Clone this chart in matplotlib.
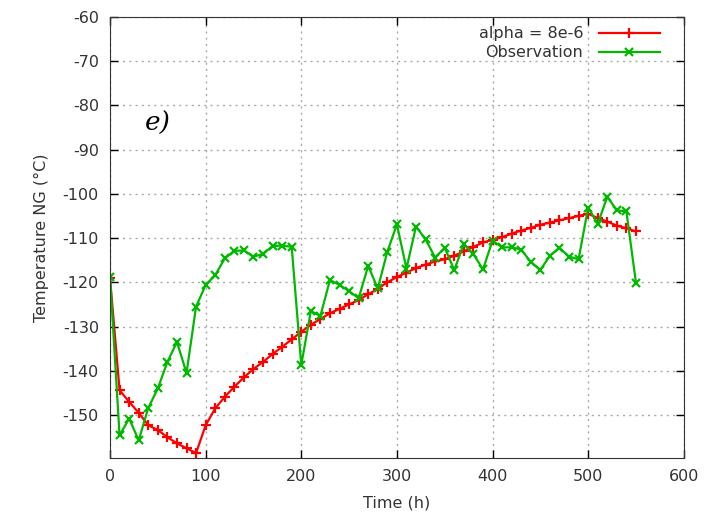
import numpy as np
import matplotlib
matplotlib.use('Agg')
import matplotlib.pyplot as plt

# datos
tiempo = np.arange(0, 560, 10)
modelo = [-119.0, -144.4, -147.0, -149.5, -152.3, -153.4, -155.0, -156.4, -157.5, -158.6,
          -152.3, -148.5, -145.9, -143.6, -141.5, -139.6, -138.0, -136.2, -134.6, -132.9,
          -131.2, -129.6, -128.3, -127.0, -126.0, -125.0, -124.0, -122.7, -121.5, -120.0,
          -118.8, -117.8, -116.8, -116.0, -115.3, -114.8, -114.0, -113.0, -112.0, -111.0,
          -110.4, -109.8, -109.0, -108.3, -107.7, -107.0, -106.5, -106.0, -105.5, -105.0,
          -104.5, -105.5, -106.3, -107.2, -107.8, -108.5]
observacion = [-118.7, -154.6, -150.8, -155.7, -148.4, -144.0, -138.0, -133.5, -140.5, -125.5,
               -120.6, -118.4, -114.6, -112.9, -112.8, -114.2, -113.6, -111.8, -111.7, -112.0,
               -138.7, -126.5, -127.6, -119.5, -120.6, -122.0, -123.6, -116.3, -121.4, -113.1,
               -106.9, -116.9, -107.4, -110.3, -114.4, -112.2, -117.2, -111.4, -113.6, -117.1,
               -110.6, -112.1, -112.1, -112.6, -115.4, -117.2, -114.0, -112.2, -114.2, -114.8,
               -103.1, -106.8, -100.7, -103.7, -104.0, -120.1]
etiquetas = ['alpha = 8e-6', 'Observation']
xticks = np.arange(0, 601, 100)
yticks = np.arange(-150, -59, 10)

if __name__ == '__main__':
    plt.rcParams['font.family'] = 'DejaVu Sans'
    plt.rcParams['axes.unicode_minus'] = False
    fig = plt.figure(figsize=(7.19, 5.24), dpi=100)
    ax = fig.add_axes([0.153, 0.126, 0.798, 0.842])
    ax.plot(tiempo, modelo, color='#ff0000', lw=1.6, marker='+', ms=7, mew=1.6,
            label=etiquetas[0])
    ax.plot(tiempo, observacion, color='#00b800', lw=1.6, marker='x', ms=6, mew=1.6,
            label=etiquetas[1])
    ax.set_xlim(0, 600)
    ax.set_ylim(-159.7, -60)
    ax.set_xticks(xticks)
    ax.set_yticks(yticks)
    ax.tick_params(direction='in', top=True, right=True, length=6, width=1,
                   labelsize=11.5, labelcolor='#333333', pad=8)
    ax.grid(True, color='#aaaaaa', linestyle=(0, (1.5, 3)), lw=1)
    for s in ax.spines.values():
        s.set_color('#333333')
    ax.set_xlabel('Time (h)', fontsize=11.5, color='#333333', labelpad=8)
    ax.set_ylabel('Temperature NG (°C)', fontsize=11.5, color='#333333', labelpad=10)
    ax.text(50, -84, 'e)', fontsize=19, family='DejaVu Serif', style='italic', ha='center', va='center')
    ax.legend(loc='upper right', frameon=False, markerfirst=False, numpoints=1,
              handlelength=3.8, fontsize=11.5, labelcolor='#333333',
              borderaxespad=0.2, handletextpad=1.0, labelspacing=0.25,
              bbox_to_anchor=(0.975, 1.0))
    fig.savefig('out.png', dpi=100)
